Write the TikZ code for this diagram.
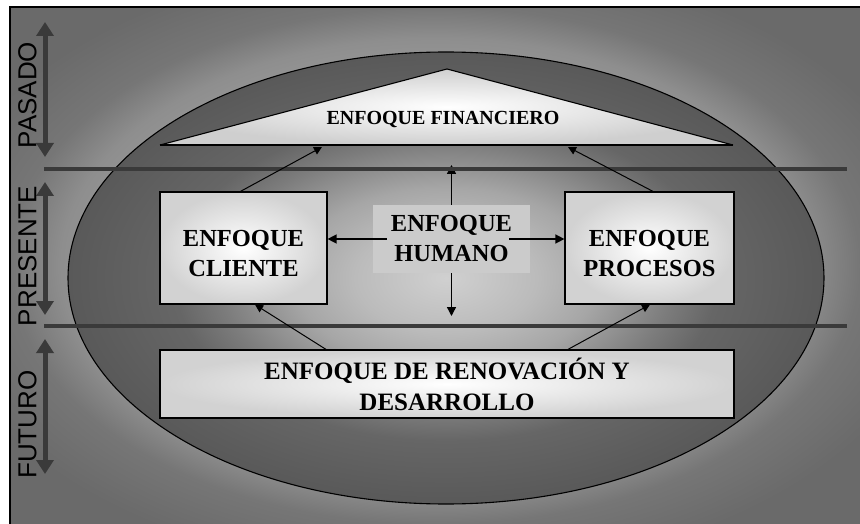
\documentclass[tikz,border=0pt]{standalone}
\usepackage{fontspec}
\setmainfont{Liberation Serif}
\newfontfamily\sansf{Liberation Sans}
\usetikzlibrary{arrows.meta}
\definecolor{linegray}{HTML}{3A3A3A}
\definecolor{boxedge}{HTML}{D2D2D2}
\definecolor{humfill}{HTML}{CBCBCB}
\definecolor{trifill}{HTML}{CFCFCF}
\definecolor{bgA}{HTML}{B4B4B4}
\definecolor{bgB}{HTML}{A2A2A2}
\definecolor{bgC}{HTML}{8E8E8E}
\definecolor{bgD}{HTML}{767676}
\definecolor{bgE}{HTML}{6A6A6A}
\definecolor{elA}{HTML}{D0D0D0}
\definecolor{elB}{HTML}{BBBBBB}
\definecolor{elC}{HTML}{A6A6A6}
\definecolor{elD}{HTML}{7C7C7C}
\definecolor{elE}{HTML}{666666}
\definecolor{elF}{HTML}{595959}
\pgfdeclareradialshading{bgshade}{\pgfpoint{0bp}{0bp}}{color(0bp)=(bgA); color(15bp)=(bgB); color(22bp)=(bgC); color(25bp)=(bgD); color(30bp)=(bgE); color(50bp)=(bgE)}
\pgfdeclareradialshading{ellshade}{\pgfpoint{0bp}{0bp}}{color(0bp)=(elA); color(6bp)=(elB); color(10bp)=(elC); color(15bp)=(elD); color(18bp)=(elE); color(25bp)=(elF); color(50bp)=(elF)}
\begin{document}
\begin{tikzpicture}[x=1pt,y=-1pt,
  boxtext/.style={font=\bfseries\fontsize{24.5}{30}\selectfont, align=center, inner sep=0pt},
  enbox/.style={draw=black, line width=1.2pt, shade, inner color=white, outer color=boxedge, inner sep=0pt},
  conn/.style={line width=1pt, -{Triangle[length=8pt,width=8pt]}},
  hconn/.style={line width=1.4pt, -{Triangle[length=9pt,width=9pt]}},
  timearrow/.style={line width=5pt, draw=linegray, {Triangle[length=14pt,width=17pt]}-{Triangle[length=14pt,width=17pt]}},
  timelabel/.style={font=\sansf\fontsize{26}{26}\selectfont, rotate=90, inner sep=0pt},
  sepline/.style={line width=4.5pt, draw=linegray}]
\useasboundingbox (0,0) rectangle (860,524);
\fill[white] (0,0) rectangle (860,524);
\shade[shading=bgshade] (10,7) rectangle (860,524);
\draw[line width=1.5pt] (10,524) -- (10,7) -- (860,7);
% ellipse
\shade[shading=ellshade] (446,278) ellipse [x radius=378pt, y radius=226pt];
\draw[line width=1.1pt] (446,278) ellipse [x radius=378pt, y radius=226pt];
% triangle
\shade[inner color=white, outer color=trifill] (160,145) -- (447,69) -- (733,145) -- cycle;
\draw[line width=1.1pt] (160,145) -- (447,69) -- (733,145);
\draw[line width=1.8pt] (160,145) -- (733,145);
\node[font=\bfseries\fontsize{20}{20}\selectfont, inner sep=0pt] (fin) at (443,120) {ENFOQUE FINANCIERO};
% boxes
\node[enbox, minimum width=167pt, minimum height=112pt] (cli) at (243.5,248) {};
\node[boxtext] (clit) at ([yshift=-5.5pt]cli.center) {ENFOQUE\\CLIENTE};
\node[enbox, minimum width=169pt, minimum height=112pt] (pro) at (649.5,248) {};
\node[boxtext] (prot) at ([yshift=-5.5pt]pro.center) {ENFOQUE\\PROCESOS};
\node[boxtext, fill=humfill, minimum width=157pt, minimum height=68pt] (hum) at (451.5,239) {ENFOQUE\\HUMANO};
\node[enbox, minimum width=574pt, minimum height=68pt, font=\bfseries\fontsize{25}{31}\selectfont, align=center] (ren) at (447,384) {ENFOQUE DE RENOVACIÓN Y\\DESARROLLO};
% up arrow (partly under the separator line)
\coordinate (hup) at (451.5,165);
\draw[hconn] (hum.north) -- (hup);
% separator lines
\coordinate (s1a) at (44,169);
\coordinate (s1b) at (847,169);
\coordinate (s2a) at (44,326);
\coordinate (s2b) at (847,326);
\draw[sepline] (s1a) -- (s1b);
\draw[sepline] (s2a) -- (s2b);
% humano arrows
\coordinate (hdown) at (451.5,316);
\draw[hconn] (hum.south) -- (hdown);
\draw[hconn] ([xshift=14pt]hum.west) -- (cli.east |- hum.west);
\draw[hconn] ([xshift=-21pt]hum.east) -- (pro.west |- hum.east);
% diagonal connectors
\coordinate (finL) at (322,147);
\coordinate (finR) at (568,147);
\draw[conn] ([xshift=-3pt]cli.north) -- (finL);
\draw[conn] ([xshift=3.5pt]pro.north) -- (finR);
\draw[conn] ([xshift=-121pt]ren.north) -- ([xshift=11.5pt]cli.south);
\draw[conn] ([xshift=121pt]ren.north) -- ([xshift=0.5pt]pro.south);
% time arrows
\coordinate (pa1) at (45,22);
\coordinate (pa2) at (45,157);
\coordinate (pr1) at (45,182);
\coordinate (pr2) at (45,315);
\coordinate (fu1) at (45,339);
\coordinate (fu2) at (45,474);
\draw[timearrow] (pa1) -- (pa2);
\draw[timearrow] (pr1) -- (pr2);
\draw[timearrow] (fu1) -- (fu2);
\node[timelabel] (lpas) at (27.5,95) {PASADO};
\node[timelabel] (lpre) at (27.5,256) {PRESENTE};
\node[timelabel] (lfut) at (27.5,424.5) {FUTURO};
\end{tikzpicture}
\end{document}
